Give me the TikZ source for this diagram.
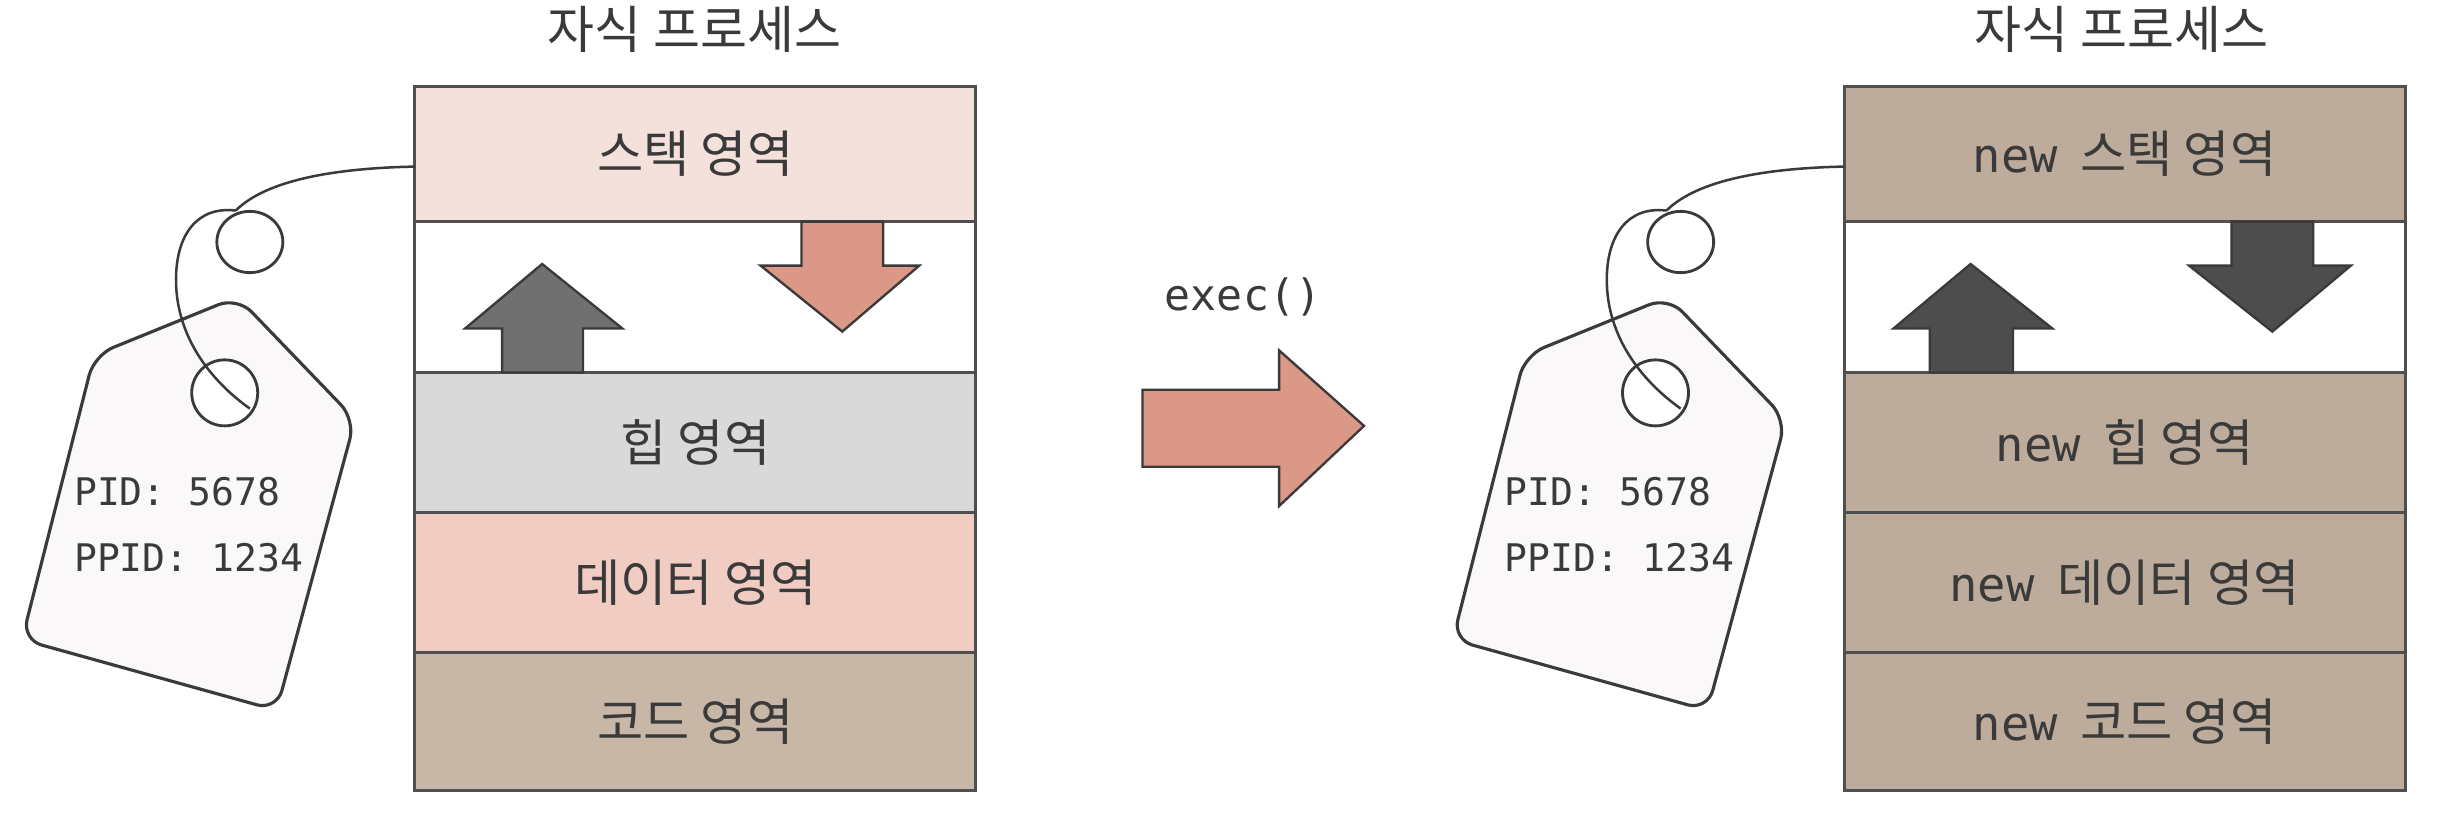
\documentclass[tikz,border=0pt]{standalone}
\usepackage{fontspec}
\setmainfont{Noto Sans CJK KR}
\newfontfamily\latinmono{DejaVu Sans Mono}
\usetikzlibrary{calc,shapes.geometric}
\definecolor{ink}{HTML}{3A3A3A}
\definecolor{edge}{HTML}{4F4F4F}
\definecolor{stackc}{HTML}{F5E1DB}
\definecolor{heapc}{HTML}{D9D9D9}
\definecolor{datac}{HTML}{F0CCC2}
\definecolor{codec}{HTML}{C8B7A6}
\definecolor{newc}{HTML}{BDAC9B}
\definecolor{salmon}{HTML}{DC9886}
\definecolor{midgray}{HTML}{707070}
\definecolor{darkgray}{HTML}{4D4D4D}
\definecolor{tagc}{HTML}{FAF8F9}
\tikzset{
  region/.style={draw=edge,line width=2pt,minimum width=357pt,inner sep=0pt,outer sep=0pt,text=ink,
    font=\fontsize{32}{34}\selectfont},
  titlelabel/.style={text=ink,inner sep=0pt,font=\fontsize{32.5}{36}\selectfont},
  blockarrow/.style={draw=ink,line width=1.5pt,line join=miter},
  tagshape/.style={draw=ink,fill=tagc,line width=2pt,rounded corners=13pt},
  stringline/.style={draw=ink,line width=1.6pt},
  monolabel/.style={text=ink,inner sep=0pt,anchor=west,font=\latinmono\fontsize{24.2}{27}\selectfont},
}
\newcommand{\newword}{{\latinmono\fontsize{30}{34}\selectfont new}\hspace{7pt}}
% #1 prefix, #2 x offset, #3 node the string is tied to
\newcommand{\pricetag}[3]{%
  \draw[tagshape] (#2+151,189) -- (#2+60,226) -- (#2+14,407) -- (#2+176,452) -- (#2+226,267) -- cycle;
  \node[draw=ink,fill=white,line width=1.8pt,circle,minimum size=42pt,inner sep=0pt] (#1hole) at (#2+143,250) {};
  \node[draw=ink,line width=1.8pt,ellipse,minimum width=42pt,minimum height=39pt,inner sep=0pt] (#1loop) at (#2+159,154) {};
  \coordinate (#1tie) at ($(#3.west)+(0,8)$);
  \coordinate (#1knot) at (#2+150,134);
  \draw[stringline] (#1tie) .. controls (#2+215,107) and (#2+170,114) .. (#1knot);
  \draw[stringline] (#1knot) .. controls (#2+125,131) and (#2+112,150) .. (#2+112,178)
     .. controls (#2+112,215) and (#2+135,243) .. (#2+159,260);
  \node[monolabel] (#1pid) at (#2+47,313) {PID: 5678};
  \node[monolabel] (#1ppid) at (#2+47,355) {PPID: 1234};
}
\begin{document}
\begin{tikzpicture}[x=1pt,y=-1pt]
\useasboundingbox (0,0) rectangle (1568,528.2);
\node[titlelabel] (ltitle) at (442,19) {자식 프로세스};
\node[titlelabel] (rtitle) at (1350,19) {자식 프로세스};
% left memory
\node[region,fill=stackc,minimum height=86pt] (lstack) at (442.5,98) {\raisebox{2pt}{스택 영역}};
\node[region,fill=white,minimum height=96pt] (lgap) at (442.5,189) {};
\node[region,fill=heapc,minimum height=89pt] (lheap) at (442.5,281.5) {\raisebox{2pt}{힙 영역}};
\node[region,fill=datac,minimum height=89pt] (ldata) at (442.5,370.5) {\raisebox{1pt}{데이터 영역}};
\node[region,fill=codec,minimum height=88pt] (lcode) at (442.5,459) {코드 영역};
% right memory
\node[region,fill=newc,minimum height=86pt] (rstack) at (1352,98) {\raisebox{2pt}{\newword{} 스택 영역}};
\node[region,fill=white,minimum height=96pt] (rgap) at (1352,189) {};
\node[region,fill=newc,minimum height=89pt] (rheap) at (1352,281.5) {\raisebox{2pt}{\newword{} 힙 영역}};
\node[region,fill=newc,minimum height=89pt] (rdata) at (1352,370.5) {\raisebox{1pt}{\newword{} 데이터 영역}};
\node[region,fill=newc,minimum height=88pt] (rcode) at (1352,459) {\newword{} 코드 영역};
% growth arrows
\draw[blockarrow,fill=midgray] (319.5,237) -- (319.5,209) -- (296,209) -- (345,168) -- (396,209) -- (371,209) -- (371,237) -- cycle;
\draw[blockarrow,fill=salmon] (510,141) -- (510,169) -- (484,169) -- (536,211) -- (585,169) -- (562,169) -- (562,141) -- cycle;
\draw[blockarrow,fill=darkgray] (1228,237) -- (1228,209) -- (1205,209) -- (1254,168) -- (1306,209) -- (1281,209) -- (1281,237) -- cycle;
\draw[blockarrow,fill=darkgray] (1420,141) -- (1420,169) -- (1393,169) -- (1446,211) -- (1496,169) -- (1472,169) -- (1472,141) -- cycle;
% exec arrow
\node[text=ink,inner sep=0pt,font=\latinmono\fontsize{27.5}{30}\selectfont] (execlabel) at (791,189) {exec()};
\draw[blockarrow,fill=salmon] (727,248) -- (814,248) -- (814,223) -- (868,271) -- (814,322) -- (814,297) -- (727,297) -- cycle;
% tags
\pricetag{l}{0}{lstack}
\pricetag{r}{910.5}{rstack}
\end{tikzpicture}
\end{document}
